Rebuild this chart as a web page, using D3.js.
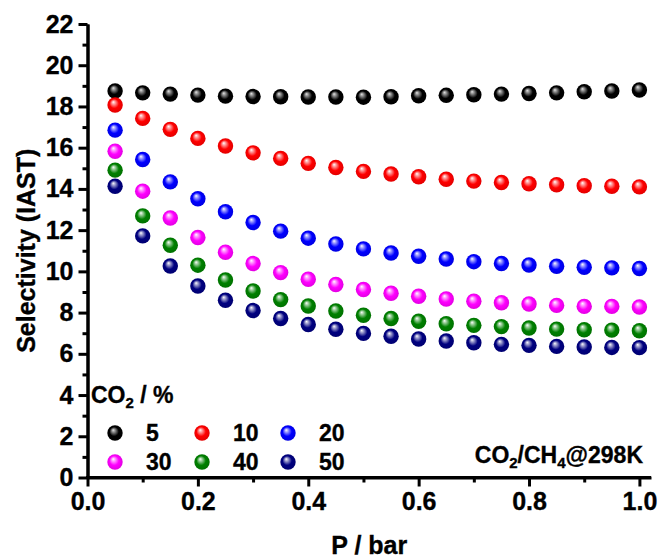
<!DOCTYPE html>
<html>
<head>
<meta charset="utf-8">
<script src="https://cdn.jsdelivr.net/npm/d3@7"></script>
<style>
  body { margin: 0; background: #fff; }
  svg text { font-family: "Liberation Sans", Arial, sans-serif; font-weight: bold; fill: #000;
             stroke: #000; stroke-width: 0.35px; }
</style>
</head>
<body>
<svg id="chart"></svg>
<script>
// pressure points (bar)
var pressure = [0.05, 0.10, 0.15, 0.20, 0.25, 0.30, 0.35, 0.40, 0.45, 0.50,
                0.55, 0.60, 0.65, 0.70, 0.75, 0.80, 0.85, 0.90, 0.95, 1.00];

// CO2 fraction of each series (%)
var co2Levels = ["5", "10", "20", "30", "40", "50"];
var seriesColors = ["#000000", "#ff0000", "#0000ff", "#ff00ff", "#008000", "#000080"];

// IAST selectivity
var sel5  = [18.75, 18.66, 18.60, 18.55, 18.50, 18.48, 18.47, 18.46, 18.46, 18.45,
             18.47, 18.52, 18.54, 18.57, 18.60, 18.63, 18.66, 18.71, 18.75, 18.80];
var sel10 = [18.07, 17.42, 16.89, 16.45, 16.08, 15.75, 15.48, 15.24, 15.04, 14.85,
             14.72, 14.59, 14.47, 14.38, 14.31, 14.25, 14.20, 14.15, 14.13, 14.10];
var sel20 = [16.85, 15.43, 14.34, 13.52, 12.89, 12.37, 11.95, 11.61, 11.33, 11.09,
             10.89, 10.73, 10.60, 10.47, 10.38, 10.31, 10.25, 10.20, 10.17, 10.14];
var sel30 = [15.83, 13.89, 12.59, 11.64, 10.93, 10.38, 9.94, 9.62, 9.36, 9.12,
             8.94, 8.79, 8.66, 8.55, 8.48, 8.42, 8.35, 8.30, 8.30, 8.27];
var sel40 = [14.91, 12.69, 11.27, 10.30, 9.58, 9.05, 8.63, 8.32, 8.08, 7.87,
             7.71, 7.58, 7.46, 7.38, 7.32, 7.25, 7.20, 7.17, 7.15, 7.12];
var sel50 = [14.13, 11.72, 10.26, 9.29, 8.60, 8.10, 7.71, 7.42, 7.19, 6.99,
             6.85, 6.72, 6.62, 6.54, 6.46, 6.41, 6.36, 6.33, 6.31, 6.30];

var xTicks = [0, 0.2, 0.4, 0.6, 0.8, 1.0];
var yTicks = [0, 2, 4, 6, 8, 10, 12, 14, 16, 18, 20, 22];

var allSel = [sel5, sel10, sel20, sel30, sel40, sel50];

var width = 659, height = 559;
var svg = d3.select("#chart").attr("width", width).attr("height", height);

var plotL = 87.5, plotR = 651, plotT = 24, plotB = 477.5;

var x = d3.scaleLinear().domain([0, 1.021]).range([plotL, plotR]);
var y = d3.scaleLinear().domain([0, 22]).range([plotB, plotT]);

// sphere look: one radial gradient per colour
var defs = svg.append("defs");
seriesColors.forEach(function(c, i) {
  var g = defs.append("radialGradient")
    .attr("id", "ball" + i)
    .attr("cx", "50%").attr("cy", "50%").attr("r", "55%")
    .attr("fx", "38%").attr("fy", "30%");
  var hi = i == 0 ? "#e6e6e6" : "#ffffff";
  g.append("stop").attr("offset", "0%").attr("stop-color", hi);
  g.append("stop").attr("offset", "18%").attr("stop-color", d3.interpolateRgb(hi, c)(0.35));
  g.append("stop").attr("offset", "55%").attr("stop-color", c);
  g.append("stop").attr("offset", "100%").attr("stop-color", d3.color(c).darker(0.4));
});

// axes
var xAxis = d3.axisBottom(x).tickValues(xTicks).tickFormat(d3.format(".1f")).tickSize(9).tickSizeOuter(0);
var xMinor = d3.axisBottom(x).tickValues([0.1, 0.3, 0.5, 0.7, 0.9]).tickFormat("").tickSize(5).tickSizeOuter(0);
var yAxis = d3.axisLeft(y).tickValues(yTicks).tickFormat(d3.format("d")).tickSize(9).tickSizeOuter(0);
var yMinor = d3.axisLeft(y).tickValues(d3.range(1, 22, 2)).tickFormat("").tickSize(5).tickSizeOuter(0);

function styleAxis(g) {
  g.selectAll("path").attr("stroke", "#000").attr("stroke-width", 3);
  g.selectAll("line").attr("stroke", "#000").attr("stroke-width", 3);
  g.selectAll("text").style("font-size", "25px");
}

svg.append("g").attr("transform", "translate(0," + plotB + ")").call(xMinor).call(styleAxis);
var gx = svg.append("g").attr("transform", "translate(0," + plotB + ")").call(xAxis).call(styleAxis);
gx.selectAll("text").attr("y", 15);
svg.append("g").attr("transform", "translate(" + plotL + ",0)").call(yMinor).call(styleAxis);
var gy = svg.append("g").attr("transform", "translate(" + plotL + ",0)").call(yAxis).call(styleAxis);
gy.selectAll("text").attr("x", -14);
gx.select(".domain").attr("d", "M" + (plotL - 1.5) + ",0H" + plotR);

// axis titles
svg.append("text")
  .attr("transform", "translate(35," + ((plotT + plotB) / 2) + ") rotate(-90)")
  .attr("text-anchor", "middle")
  .style("font-size", "25px")
  .text("Selectivity (IAST)");

svg.append("text")
  .attr("x", (plotL + plotR) / 2)
  .attr("y", 554)
  .attr("text-anchor", "middle")
  .style("font-size", "25px")
  .text("P / bar");

// data spheres
allSel.forEach(function(vals, i) {
  svg.append("g").selectAll("circle")
    .data(vals)
    .enter().append("circle")
    .attr("cx", function(d, j) { return x(pressure[j]); })
    .attr("cy", function(d) { return y(d); })
    .attr("r", 7.7)
    .attr("fill", "url(#ball" + i + ")");
});

// legend
var lt = svg.append("text").attr("x", 91).attr("y", 403).style("font-size", "23px");
lt.append("tspan").text("CO");
lt.append("tspan").attr("dy", 5).style("font-size", "15px").text("2");
lt.append("tspan").attr("dy", -5).text(" / %");

var legX = [115, 202, 288];
var legY = [433, 462];
co2Levels.forEach(function(lbl, i) {
  var cx = legX[i % 3], cy = legY[Math.floor(i / 3)];
  svg.append("circle").attr("cx", cx).attr("cy", cy).attr("r", 7.7).attr("fill", "url(#ball" + i + ")");
  svg.append("text").attr("x", cx + 31).attr("y", cy + 8).style("font-size", "23px").text(lbl);
});

// condition label
var ann = svg.append("text").attr("x", 643).attr("y", 463).attr("text-anchor", "end").style("font-size", "23px");
ann.append("tspan").text("CO");
ann.append("tspan").attr("dy", 5).style("font-size", "15px").text("2");
ann.append("tspan").attr("dy", -5).text("/CH");
ann.append("tspan").attr("dy", 5).style("font-size", "15px").text("4");
ann.append("tspan").attr("dy", -5).text("@298K");
</script>
</body>
</html>
